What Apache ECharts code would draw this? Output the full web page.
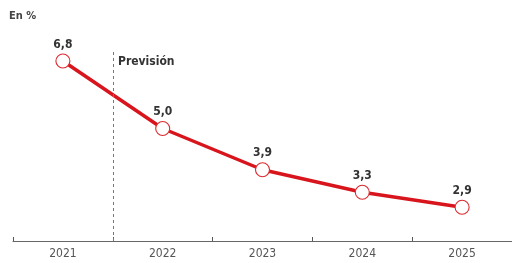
<!DOCTYPE html>
<html>
<head>
<meta charset="utf-8">
<script src="https://cdn.jsdelivr.net/npm/echarts@6/dist/echarts.min.js"></script>
<style>
  html, body { margin: 0; padding: 0; background: #fff; }
  #chart { width: 512px; height: 263px; }
</style>
</head>
<body>
<div id="chart"></div>
<script>
// datos
var years = ['2021', '2022', '2023', '2024', '2025'];
var values = [6.8, 5.0, 3.9, 3.3, 2.9];
var forecastStart = 0.5; // entre 2021 y 2022

var font = '"DejaVu Sans Condensed", "Liberation Sans Narrow", sans-serif';
var chart = echarts.init(document.getElementById('chart'));

chart.setOption({
  animation: false,
  grid: { left: 13, top: 16, width: 501, height: 225 },
  xAxis: [{
    type: 'category',
    data: years,
    boundaryGap: true,
    axisLine: { show: true, lineStyle: { color: '#666', width: 1 } },
    axisTick: { show: true, inside: true, length: 4, lineStyle: { color: '#555', width: 1 } },
    axisLabel: { color: '#555', fontFamily: font, fontSize: 12, margin: 7 }
  }, {
    type: 'value',
    min: -0.5,
    max: 4.5,
    show: false
  }],
  yAxis: {
    type: 'value',
    min: 2,
    max: 8,
    show: false,
    splitLine: { show: false }
  },
  graphic: [
    { type: 'text', left: 9, top: 11,
      style: { text: 'En %', font: 'bold 11px ' + font, fill: '#444' } },
    { type: 'text', left: 118, top: 56,
      style: { text: 'Previsión', font: 'bold 12px ' + font, fill: '#333' } }
  ],
  series: [{
    type: 'line',
    data: values,
    lineStyle: { color: '#d8151c', width: 3.5 },
    itemStyle: { color: '#fff', borderColor: '#dc2a30', borderWidth: 1.1 },
    symbol: 'circle',
    symbolSize: 14,
    label: {
      show: true,
      position: 'top',
      distance: 3,
      color: '#333',
      fontFamily: font,
      fontWeight: 'bold',
      fontSize: 12,
      formatter: function (p) { return p.value.toFixed(1).replace('.', ','); }
    },
    z: 3
  }, {
    type: 'line',
    xAxisIndex: 1,
    data: [],
    markLine: {
      silent: true,
      symbol: 'none',
      label: { show: false },
      lineStyle: { color: '#777', type: [3, 3], width: 1 },
      data: [[{ coord: [forecastStart, 2] }, { coord: [forecastStart, 7.07] }]]
    }
  }]
});
</script>
</body>
</html>
